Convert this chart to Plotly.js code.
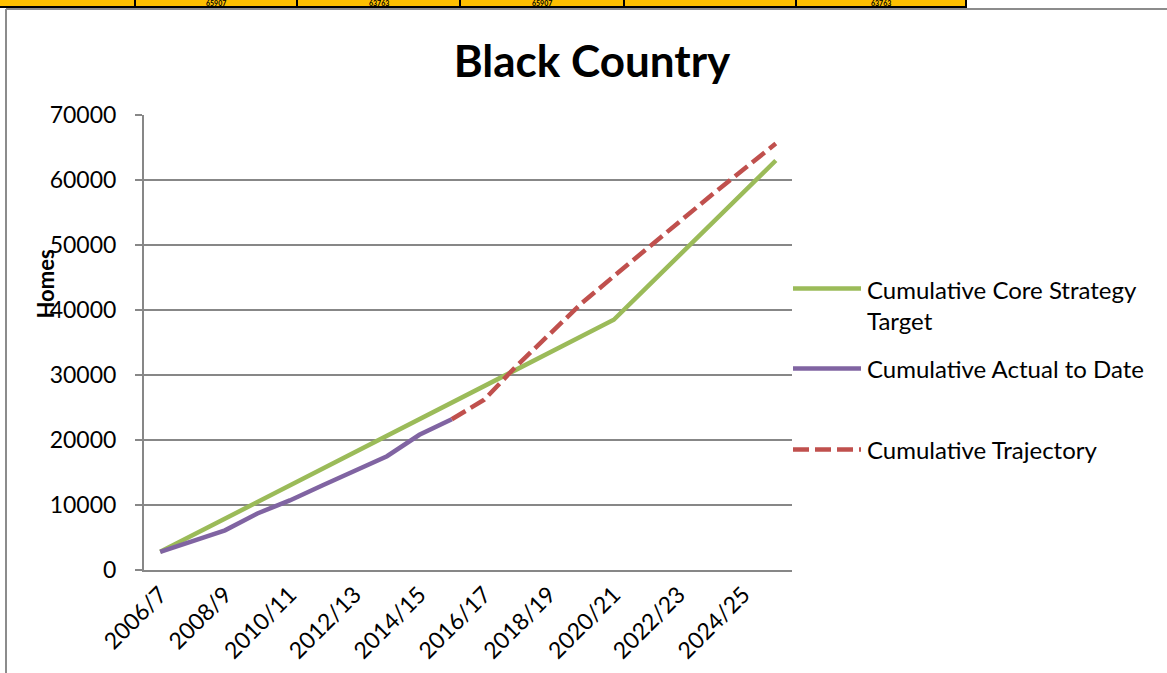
<!DOCTYPE html>
<html>
<head>
<meta charset="utf-8">
<script src="https://cdn.plot.ly/plotly-3.0.1.min.js"></script>
<style>
  html, body { margin: 0; padding: 0; background: #ffffff; overflow: hidden; }
  #chart { width: 1167px; height: 673px; }
</style>
</head>
<body>
<div id="chart"></div>
<script>
// Financial years on the category axis
const years = [
  "2006/7", "2007/8", "2008/9", "2009/10", "2010/11", "2011/12", "2012/13",
  "2013/14", "2014/15", "2015/16", "2016/17", "2017/18", "2018/19", "2019/20",
  "2020/21", "2021/22", "2022/23", "2023/24", "2024/25", "2025/26"
];

// Labels shown under the axis (every other year)
const tickLabels = [
  "2006/7", "2008/9", "2010/11", "2012/13", "2014/15",
  "2016/17", "2018/19", "2020/21", "2022/23", "2024/25"
];

// Cumulative Core Strategy target (homes)
const coreTarget = [
  2800, 5350, 7900, 10450, 13000, 15550, 18100, 20650, 23200, 25750,
  28300, 30850, 33400, 35950, 38500, 43400, 48300, 53200, 58100, 63000
];

// Cumulative completions recorded so far
const actualToDate = [
  2800, 4400, 6100, 8700, 10700, 13000, 15300, 17500, 20800, 23200,
  null, null, null, null, null, null, null, null, null, null
];

// Projected cumulative delivery from the latest completions onward
const trajectory = [
  null, null, null, null, null, null, null, null, null, 23200,
  26200, 31400, 36300, 41000, 45200, 49400, 53500, 57600, 61600, 65600
];

const seriesNames = [
  "Cumulative Core Strategy<br>Target",
  "Cumulative Actual to Date",
  "Cumulative Trajectory"
];

// Spreadsheet row visible above the chart frame
const rowCellText = ["", "65907", "63763", "65907", "", "63763"];

const GREEN = "#9BBB59", PURPLE = "#8064A2", RED = "#C0504D";
const GRID = "#878787";
const FONT = "Lato, 'Open Sans', sans-serif";

// Plot area in pixels
const W = 1167, H = 673;
const L = 144, R = 792, T = 115, B = 570;
const px = x => (x - L) / (R - L);
const py = y => (B - y) / (B - T);

const traces = [
  {
    x: years, y: coreTarget, type: "scatter", mode: "lines",
    name: seriesNames[0],
    line: { color: GREEN, width: 4.5 }, showlegend: false, connectgaps: false
  },
  {
    x: years, y: actualToDate, type: "scatter", mode: "lines",
    name: seriesNames[1],
    line: { color: PURPLE, width: 4.5 }, showlegend: false, connectgaps: false
  },
  {
    x: years, y: trajectory, type: "scatter", mode: "lines",
    name: seriesNames[2],
    line: { color: RED, width: 4.5, dash: "16px,6px" }, showlegend: false, connectgaps: false
  }
];

const shapes = [];
const annotations = [];

// Legend: sample line plus label for each series
const legendRows = [
  { color: GREEN, dash: "solid", lineY: 288.5, textY: 305 },
  { color: PURPLE, dash: "solid", lineY: 368.5, textY: 368.5 },
  { color: RED, dash: "16px,6px", lineY: 449.5, textY: 449.5 }
];
legendRows.forEach((row, i) => {
  shapes.push({
    type: "line", xref: "paper", yref: "paper",
    x0: px(793), x1: px(861), y0: py(row.lineY), y1: py(row.lineY),
    line: { color: row.color, width: 4.5, dash: row.dash }
  });
  annotations.push({
    xref: "paper", yref: "paper", x: px(865), y: py(row.textY),
    xanchor: "left", yanchor: "middle", align: "left", showarrow: false,
    text: seriesNames[i],
    font: { family: FONT, size: 24, color: "#000000" }
  });
});

// Vertical axis caption
annotations.push({
  xref: "paper", yref: "paper", x: px(45), y: py(283.5),
  xanchor: "center", yanchor: "middle", textangle: -90, showarrow: false,
  text: "<b>Homes</b>",
  font: { family: FONT, size: 22, color: "#000000" }
});

// Yellow spreadsheet row and its cell borders
const cellEdges = [0, 135, 297, 460, 624, 796, 966];
shapes.push({
  type: "rect", xref: "paper", yref: "paper",
  x0: px(0), x1: px(966), y0: py(-2), y1: py(7),
  fillcolor: "#FFC000", line: { width: 0 }, layer: "below"
});
shapes.push({
  type: "line", xref: "paper", yref: "paper",
  x0: px(0), x1: px(967), y0: py(7), y1: py(7),
  line: { color: "#000000", width: 2 }
});
cellEdges.slice(1).forEach(e => {
  shapes.push({
    type: "line", xref: "paper", yref: "paper",
    x0: px(e), x1: px(e), y0: py(-2), y1: py(7),
    line: { color: "#000000", width: 2 }
  });
});
rowCellText.forEach((t, i) => {
  if (!t) return;
  annotations.push({
    xref: "paper", yref: "paper",
    x: px((cellEdges[i] + cellEdges[i + 1]) / 2), y: py(3.4),
    xanchor: "center", yanchor: "middle", showarrow: false,
    text: "<b>" + t + "</b>",
    font: { family: FONT, size: 7, color: "#000000" }
  });
});

// Chart frame: top and left edges
shapes.push({
  type: "line", xref: "paper", yref: "paper",
  x0: px(6), x1: px(W + 2), y0: py(9), y1: py(9),
  line: { color: "#8c8c8c", width: 2 }
});
shapes.push({
  type: "line", xref: "paper", yref: "paper",
  x0: px(6), x1: px(6), y0: py(9), y1: py(H + 2),
  line: { color: "#8c8c8c", width: 2 }
});

const layout = {
  width: W, height: H,
  margin: { l: L, r: W - R, t: T, b: H - B, pad: 0 },
  paper_bgcolor: "#ffffff", plot_bgcolor: "#ffffff",
  font: { family: FONT, color: "#000000" },
  title: {
    text: "<b>Black Country</b>",
    font: { family: FONT, size: 44, color: "#000000" },
    xref: "paper", x: px(592), xanchor: "center",
    yref: "container", y: 1 - 62 / H, yanchor: "middle"
  },
  xaxis: {
    type: "category",
    categoryorder: "array", categoryarray: years,
    range: [-0.5, years.length - 0.5],
    tickmode: "array", tickvals: tickLabels, ticktext: tickLabels,
    tickangle: -45,
    tickfont: { family: FONT, size: 23, color: "#000000" },
    ticks: "", showgrid: false, zeroline: false,
    showline: true, linecolor: GRID, linewidth: 2,
    fixedrange: true
  },
  yaxis: {
    range: [0, 70000], dtick: 10000, tick0: 0, tickformat: "d",
    tickfont: { family: FONT, size: 23, color: "#000000" },
    ticks: "outside", ticklen: 7, tickwidth: 2, tickcolor: GRID,
    ticklabelstandoff: 14,
    showgrid: true, gridcolor: GRID, gridwidth: 2,
    zeroline: false, showline: true, linecolor: GRID, linewidth: 2,
    fixedrange: true
  },
  shapes: shapes,
  annotations: annotations,
  showlegend: false
};

Plotly.newPlot("chart", traces, layout, { staticPlot: true, displayModeBar: false });
</script>
</body>
</html>
